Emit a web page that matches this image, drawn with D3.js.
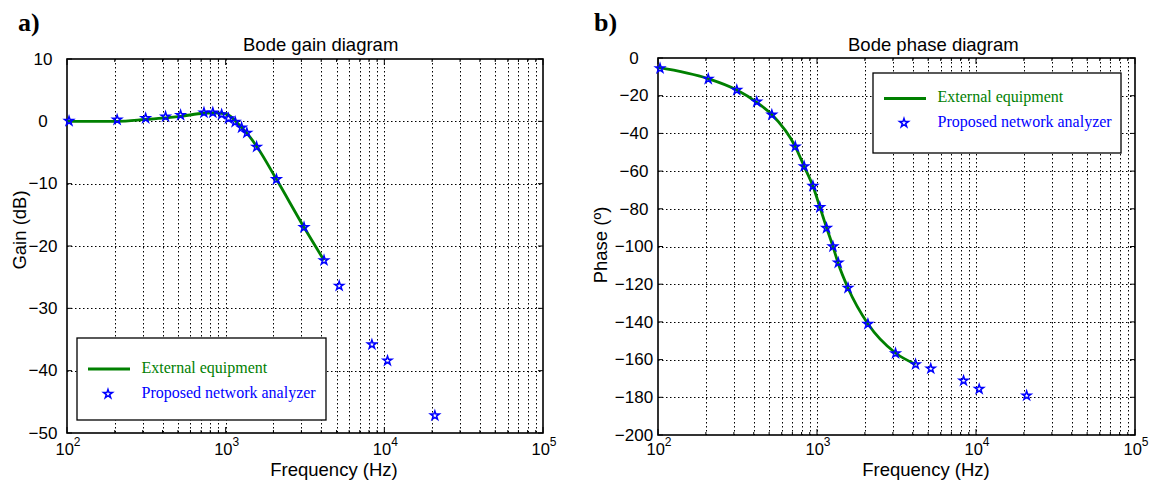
<!DOCTYPE html>
<html>
<head>
<meta charset="utf-8">
<script src="https://cdn.jsdelivr.net/npm/d3@7"></script>
<style>
	body { margin: 0; background: #fff; }
	svg { display: block; }
	.tick-lbl { font-family: "Liberation Sans", Arial, sans-serif; font-size: 17px; fill: #000; }
	.ax-lbl { font-family: "Liberation Sans", Arial, sans-serif; font-size: 18.5px; fill: #000; }
	.leg { font-family: "Liberation Serif", "Times New Roman", serif; font-size: 16px; }
</style>
</head>
<body>
<div id="chart"></div>
<script>

// measured frequencies (Hz) of the network analyzer points
let freq = [103, 207, 313, 418, 520, 730, 830, 943, 1042, 1148, 1260, 1360, 1567, 2090, 3118, 4168, 5195, 8350, 10470, 20820];
let gainStar = [0.05, 0.25, 0.5, 0.75, 1.0, 1.4, 1.4, 1.1, 0.45, -0.1, -1.0, -1.85, -4.1, -9.3, -17.0, -22.3, -26.4, -35.8, -38.4, -47.2];
let phaseStar = [-5.5, -11.1, -17, -23.2, -30.1, -47, -57.5, -67.9, -79.2, -90.2, -100, -108.6, -122, -141.1, -156.7, -162.5, -164.8, -171.2, -175.6, -179.1];

// external equipment curve
let lineFreq = [100, 207, 313, 418, 520, 730, 830, 943, 1042, 1148, 1260, 1360, 1567, 2090, 3118, 4168];
let gainLine = [0, 0, 0.3, 0.55, 0.8, 1.3, 1.35, 1.3, 1.0, 0.1, -1.0, -1.9, -4.0, -9.3, -17.0, -22.3];
let phaseLine = [-5, -11, -17, -23.5, -30, -47, -57.5, -68, -79, -90, -100, -109, -122, -141, -156.5, -162.5];

let decades = [1e2, 1e3, 1e4, 1e5];
let gainTicks = [10, 0, -10, -20, -30, -40, -50];
let phaseTicks = [0, -20, -40, -60, -80, -100, -120, -140, -160, -180, -200];

let legendNames = ["External equipment", "Proposed network analyzer"];

let width = 1152, height = 482;
let green = "#008000", blue = "#0000ff";

let svg = d3.select("#chart").append("svg")
	.attr("width", width)
	.attr("height", height);

let minorFreqs = [];
for (let d = 2; d < 5; d++) {
	for (let m = 2; m <= 9; m++) minorFreqs.push(m * Math.pow(10, d));
}

function fmt(v) {
	return v < 0 ? "\u2212" + Math.abs(v) : String(v);
}

function drawPanel(p) {
	let x = d3.scaleLog().domain([1e2, 1e5]).range([p.left, p.right]);
	let y = d3.scaleLinear().domain(p.yDomain).range([p.bottom, p.top]);
	let g = svg.append("g");
	let w = p.right - p.left, h = p.bottom - p.top;

	// grid
	let grid = g.append("g")
		.attr("stroke", "#000")
		.attr("stroke-width", 1)
		.attr("stroke-dasharray", "1.5,2.5");
	grid.selectAll(".gx")
		.data(minorFreqs.concat(decades.slice(1, 3)))
		.enter().append("line")
		.attr("x1", d => Math.round(x(d)) + 0.5)
		.attr("x2", d => Math.round(x(d)) + 0.5)
		.attr("y1", p.top)
		.attr("y2", p.bottom);
	grid.selectAll(".gy")
		.data(p.ticks.slice(1, -1))
		.enter().append("line")
		.attr("y1", d => Math.round(y(d)) + 0.5)
		.attr("y2", d => Math.round(y(d)) + 0.5)
		.attr("x1", p.left)
		.attr("x2", p.right);

	// inward ticks on all four sides
	let tk = g.append("g").attr("stroke", "#000").attr("stroke-width", 1);
	let xt = minorFreqs.map(f => ({ f: f, len: 3 })).concat(decades.map(f => ({ f: f, len: 6 })));
	[[p.bottom, -1], [p.top, 1]].forEach(([yy, dir]) => {
		tk.selectAll(null).data(xt).enter().append("line")
			.attr("x1", d => x(d.f)).attr("x2", d => x(d.f))
			.attr("y1", yy).attr("y2", d => yy + dir * d.len);
	});
	[[p.left, 1], [p.right, -1]].forEach(([xx, dir]) => {
		tk.selectAll(null).data(p.ticks).enter().append("line")
			.attr("y1", d => y(d)).attr("y2", d => y(d))
			.attr("x1", xx).attr("x2", xx + dir * 5);
	});

	// frame
	g.append("rect")
		.attr("x", p.left).attr("y", p.top)
		.attr("width", w).attr("height", h)
		.attr("fill", "none")
		.attr("stroke", "#000")
		.attr("stroke-width", 1.6);

	// tick labels
	g.selectAll(".yl").data(p.ticks).enter().append("text")
		.attr("class", "tick-lbl")
		.attr("x", p.left - 24)
		.attr("y", d => y(d))
		.attr("dy", "0.34em")
		.attr("text-anchor", "middle")
		.text(fmt);
	let xl = g.selectAll(".xl").data(decades).enter().append("text")
		.attr("class", "tick-lbl")
		.style("font-size", "16.5px")
		.attr("x", d => x(d) + 1)
		.attr("y", 455)
		.attr("text-anchor", "middle");
	xl.append("tspan").text("10");
	xl.append("tspan")
		.attr("dy", -9)
		.style("font-size", "12px")
		.text(d => Math.round(Math.log10(d)));

	// data
	let line = d3.line()
		.x((d, i) => x(lineFreq[i]))
		.y(d => y(d))
		.curve(d3.curveMonotoneX);
	g.append("path")
		.datum(p.lineVals)
		.attr("d", line)
		.attr("fill", "none")
		.attr("stroke", green)
		.attr("stroke-width", 2.8);

	let star = d3.symbol().type(d3.symbolStar).size(24);
	g.selectAll(".st").data(p.starVals).enter().append("path")
		.attr("d", star)
		.attr("transform", (d, i) => `translate(${x(freq[i])},${y(d)})`)
		.attr("fill", "none")
		.attr("stroke", blue)
		.attr("stroke-width", 1.5);

	// titles
	svg.append("text").attr("class", "ax-lbl")
		.attr("x", p.titleX).attr("y", 50.5)
		.text(p.title);
	svg.append("text").attr("class", "ax-lbl")
		.attr("x", p.xLabelX).attr("y", 476)
		.attr("text-anchor", "middle")
		.text("Frequency (Hz)");
	svg.append("text").attr("class", "ax-lbl")
		.attr("transform", `translate(${p.yLabelX},${p.yLabelY}) rotate(-90)`)
		.attr("text-anchor", "middle")
		.text(p.yLabel);
	svg.append("text")
		.attr("x", p.tagX).attr("y", 31)
		.style("font-family", "'Liberation Serif', 'Times New Roman', serif")
		.style("font-weight", "bold")
		.style("font-size", "26px")
		.text(p.tag);

	// legend
	let lg = svg.append("g").attr("transform", `translate(${p.leg.x},${p.leg.y})`);
	lg.append("rect")
		.attr("width", p.leg.w).attr("height", p.leg.h)
		.attr("fill", "#fff")
		.attr("stroke", "#000")
		.attr("stroke-width", 1.3);
	lg.append("line")
		.attr("x1", 11).attr("x2", 53)
		.attr("y1", p.leg.r1).attr("y2", p.leg.r1)
		.attr("stroke", green).attr("stroke-width", 2.8);
	lg.append("path")
		.attr("d", star)
		.attr("transform", `translate(31,${p.leg.r2})`)
		.attr("fill", "none")
		.attr("stroke", blue)
		.attr("stroke-width", 1.5);
	lg.selectAll(".lt").data(legendNames).enter().append("text")
		.attr("class", "leg")
		.attr("x", 64.5)
		.attr("y", (d, i) => (i === 0 ? p.leg.r1 : p.leg.r2) + 3.5)
		.attr("fill", (d, i) => i === 0 ? green : blue)
		.text(d => d);
}

drawPanel({
	left: 67, right: 543, top: 59, bottom: 433,
	yDomain: [-50, 10], ticks: gainTicks,
	lineVals: gainLine, starVals: gainStar,
	title: "Bode gain diagram", titleX: 243,
	xLabelX: 334, yLabel: "Gain (dB)", yLabelX: 26, yLabelY: 230,
	tag: "a)", tagX: 18,
	leg: { x: 77, y: 338, w: 249, h: 82, r1: 31, r2: 56 }
});

drawPanel({
	left: 658, right: 1135, top: 58, bottom: 435,
	yDomain: [-200, 0], ticks: phaseTicks,
	lineVals: phaseLine, starVals: phaseStar,
	title: "Bode phase diagram", titleX: 848,
	xLabelX: 926, yLabel: "Phase (\u00ba)", yLabelX: 607, yLabelY: 245,
	tag: "b)", tagX: 594,
	leg: { x: 873, y: 73, w: 248, h: 80, r1: 25.5, r2: 50 }
});

</script>
</body>
</html>
